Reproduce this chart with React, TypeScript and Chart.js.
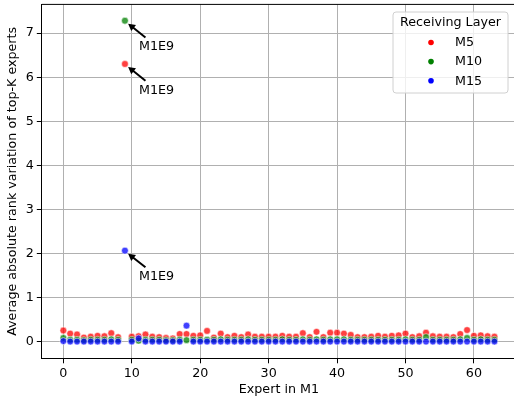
import React, { useEffect, useRef } from "react";
import { Chart, registerables } from "chart.js";

Chart.register(...registerables);

const experts: number[] = Array.from({ length: 64 }, (_, i) => i);

const m5: number[] = [
  0.26, 0.19, 0.17, 0.10, 0.12, 0.14, 0.13, 0.20, 0.11, 6.30,
  0.12, 0.13, 0.17, 0.12, 0.11, 0.09, 0.08, 0.18, 0.18, 0.14,
  0.15, 0.25, 0.10, 0.19, 0.11, 0.14, 0.11, 0.17, 0.12, 0.12,
  0.12, 0.12, 0.14, 0.12, 0.12, 0.20, 0.11, 0.23, 0.11, 0.21,
  0.21, 0.19, 0.16, 0.11, 0.11, 0.12, 0.14, 0.12, 0.14, 0.15,
  0.19, 0.11, 0.13, 0.21, 0.13, 0.12, 0.12, 0.11, 0.18, 0.27,
  0.14, 0.15, 0.13, 0.12,
];

const m10: number[] = [
  0.09, 0.05, 0.05, 0.04, 0.05, 0.05, 0.05, 0.06, 0.05, 7.28,
  0.05, 0.03, 0.05, 0.05, 0.05, 0.04, 0.04, 0.05, 0.04, 0.05,
  0.05, 0.05, 0.05, 0.06, 0.05, 0.05, 0.05, 0.06, 0.05, 0.05,
  0.05, 0.05, 0.06, 0.05, 0.05, 0.06, 0.05, 0.06, 0.05, 0.06,
  0.06, 0.06, 0.05, 0.05, 0.05, 0.05, 0.05, 0.05, 0.05, 0.05,
  0.06, 0.05, 0.05, 0.11, 0.05, 0.05, 0.05, 0.05, 0.06, 0.09,
  0.05, 0.06, 0.05, 0.05,
];

const m15: number[] = [
  0.02, 0.01, 0.01, 0.01, 0.01, 0.01, 0.01, 0.01, 0.01, 2.07,
  0.01, 0.08, 0.01, 0.01, 0.01, 0.01, 0.01, 0.01, 0.37, 0.01,
  0.01, 0.01, 0.01, 0.01, 0.01, 0.01, 0.01, 0.01, 0.01, 0.01,
  0.01, 0.01, 0.01, 0.01, 0.01, 0.01, 0.01, 0.01, 0.01, 0.01,
  0.01, 0.01, 0.01, 0.01, 0.01, 0.01, 0.01, 0.01, 0.01, 0.01,
  0.01, 0.01, 0.01, 0.01, 0.01, 0.01, 0.01, 0.01, 0.01, 0.01,
  0.01, 0.01, 0.01, 0.01,
];

const seriesNames = ["M5", "M10", "M15"];
const seriesColors = ["rgba(255,0,0,0.75)", "rgba(0,128,0,0.75)", "rgba(0,0,255,0.75)"];
const legendColors = ["#ff0000", "#008000", "#0000ff"];
const xTicks = [0, 10, 20, 30, 40, 50, 60];
const yTicks = [0, 1, 2, 3, 4, 5, 6, 7];
const annotatedExpert = 9;
const annotationLabel = "M1E9";
const legendTitle = "Receiving Layer";
const xTitle = "Expert in M1";
const yTitle = "Average absolute rank variation of top-K experts";

const FONT = "DejaVu Sans";
const FS = 12.7;

function drawArrow(ctx: CanvasRenderingContext2D, x1: number, y1: number, x2: number, y2: number) {
  const dx = x2 - x1, dy = y2 - y1;
  const L = Math.hypot(dx, dy);
  const ux = dx / L, uy = dy / L;
  const hl = 7, hw = 3.8, w = 1;
  const bx = x2 - ux * hl, by = y2 - uy * hl;
  const nx = -uy, ny = ux;
  ctx.beginPath();
  ctx.moveTo(x1 + nx * w, y1 + ny * w);
  ctx.lineTo(bx + nx * w, by + ny * w);
  ctx.lineTo(bx + nx * hw, by + ny * hw);
  ctx.lineTo(x2, y2);
  ctx.lineTo(bx - nx * hw, by - ny * hw);
  ctx.lineTo(bx - nx * w, by - ny * w);
  ctx.lineTo(x1 - nx * w, y1 - ny * w);
  ctx.closePath();
  ctx.fill();
}

const extrasPlugin = {
  id: "extras",
  afterDatasetsDraw(chart: any) {
    const ctx: CanvasRenderingContext2D = chart.ctx;
    const xs = chart.scales.x, ys = chart.scales.y;
    const area = chart.chartArea;
    ctx.save();
    // top spine
    ctx.strokeStyle = "#000";
    ctx.lineWidth = 1;
    ctx.beginPath();
    ctx.moveTo(area.left, area.top);
    ctx.lineTo(area.right, area.top);
    ctx.stroke();
    // annotations
    const series = [m5, m10, m15];
    ctx.fillStyle = "#000";
    ctx.font = `${FS}px "${FONT}"`;
    ctx.textBaseline = "middle";
    ctx.textAlign = "left";
    for (const s of series) {
      const px = xs.getPixelForValue(annotatedExpert);
      const py = ys.getPixelForValue(s[annotatedExpert]);
      drawArrow(ctx, px + 20.5, py + 16.7, px + 3.2, py + 3.0);
      ctx.fillText(annotationLabel, px + 14, py + 26.4);
    }
    // legend
    const lx = 393, ly = 12, lw = 115, lh = 81, r = 3;
    ctx.beginPath();
    ctx.moveTo(lx + r, ly);
    ctx.lineTo(lx + lw - r, ly);
    ctx.quadraticCurveTo(lx + lw, ly, lx + lw, ly + r);
    ctx.lineTo(lx + lw, ly + lh - r);
    ctx.quadraticCurveTo(lx + lw, ly + lh, lx + lw - r, ly + lh);
    ctx.lineTo(lx + r, ly + lh);
    ctx.quadraticCurveTo(lx, ly + lh, lx, ly + lh - r);
    ctx.lineTo(lx, ly + r);
    ctx.quadraticCurveTo(lx, ly, lx + r, ly);
    ctx.closePath();
    ctx.fillStyle = "rgba(255,255,255,0.8)";
    ctx.fill();
    ctx.strokeStyle = "#d0d0d0";
    ctx.lineWidth = 1;
    ctx.stroke();
    ctx.fillStyle = "#000";
    ctx.textAlign = "center";
    ctx.fillText(legendTitle, lx + lw / 2, 23);
    const rows = [42.5, 61.6, 80.7];
    ctx.textAlign = "left";
    for (let i = 0; i < seriesNames.length; i++) {
      ctx.beginPath();
      ctx.arc(431, rows[i], 2.8, 0, Math.PI * 2);
      ctx.fillStyle = legendColors[i];
      ctx.fill();
      ctx.fillStyle = "#000";
      ctx.fillText(seriesNames[i], 455, rows[i] + 0.5);
    }
    ctx.restore();
  },
};

function zeroPad(s: any) {
  s.paddingTop = 0;
  s.paddingBottom = 0;
  s.paddingLeft = 0;
  s.paddingRight = 0;
}

export default function App() {
  const ref = useRef<HTMLCanvasElement | null>(null);
  useEffect(() => {
    if (!ref.current) return;
    const all = [m5, m10, m15];
    const chart = new Chart(ref.current, {
      type: "scatter",
      data: {
        datasets: all.map((vals, i) => ({
          label: seriesNames[i],
          data: experts.map((e, j) => ({ x: e, y: vals[j] })),
          backgroundColor: seriesColors[i],
          borderColor: "rgba(255,255,255,0.9)",
          borderWidth: 0.6,
          pointRadius: 3.4,
          pointHoverRadius: 3.4,
          order: 3 - i,
        })),
      },
      options: {
        responsive: false,
        animation: false,
        events: [],
        layout: { padding: { top: 4.4, right: 1, bottom: 0, left: 0 } },
        plugins: { legend: { display: false }, tooltip: { enabled: false } },
        scales: {
          x: {
            type: "linear",
            min: -3.15,
            max: 66.15,
            afterBuildTicks: (s: any) => { s.ticks = xTicks.map((v) => ({ value: v })); },
            afterFit: (s: any) => { s.height = 37.7; zeroPad(s); },
            grid: { color: "#b0b0b0", lineWidth: 1, tickColor: "#000", tickLength: 5 },
            border: { color: "#000", width: 1 },
            ticks: { color: "#000", font: { family: FONT, size: FS }, padding: 3, maxRotation: 0 },
            title: {
              display: true,
              text: xTitle,
              color: "#000",
              font: { family: FONT, size: FS, lineHeight: 1 },
              padding: { top: 0, bottom: 0 },
            },
          },
          y: {
            type: "linear",
            min: -0.37,
            max: 7.65,
            afterBuildTicks: (s: any) => { s.ticks = yTicks.map((v) => ({ value: v })); },
            afterFit: (s: any) => { s.width = 41.8; zeroPad(s); },
            grid: { color: "#b0b0b0", lineWidth: 1, tickColor: "#000", tickLength: 5 },
            border: { color: "#000", width: 1 },
            ticks: { color: "#000", font: { family: FONT, size: FS }, padding: 3 },
            title: {
              display: true,
              text: yTitle,
              color: "#000",
              font: { family: FONT, size: FS },
              padding: { top: 5.5, bottom: 0 },
            },
          },
        },
      },
      plugins: [extrasPlugin],
    } as any);
    return () => chart.destroy();
  }, []);
  return (
    <div style={{ position: "absolute", left: 0, top: 0, width: 514, height: 396, overflow: "hidden", background: "#fff" }}>
      <canvas ref={ref} width={520} height={396} style={{ display: "block" }} />
    </div>
  );
}
